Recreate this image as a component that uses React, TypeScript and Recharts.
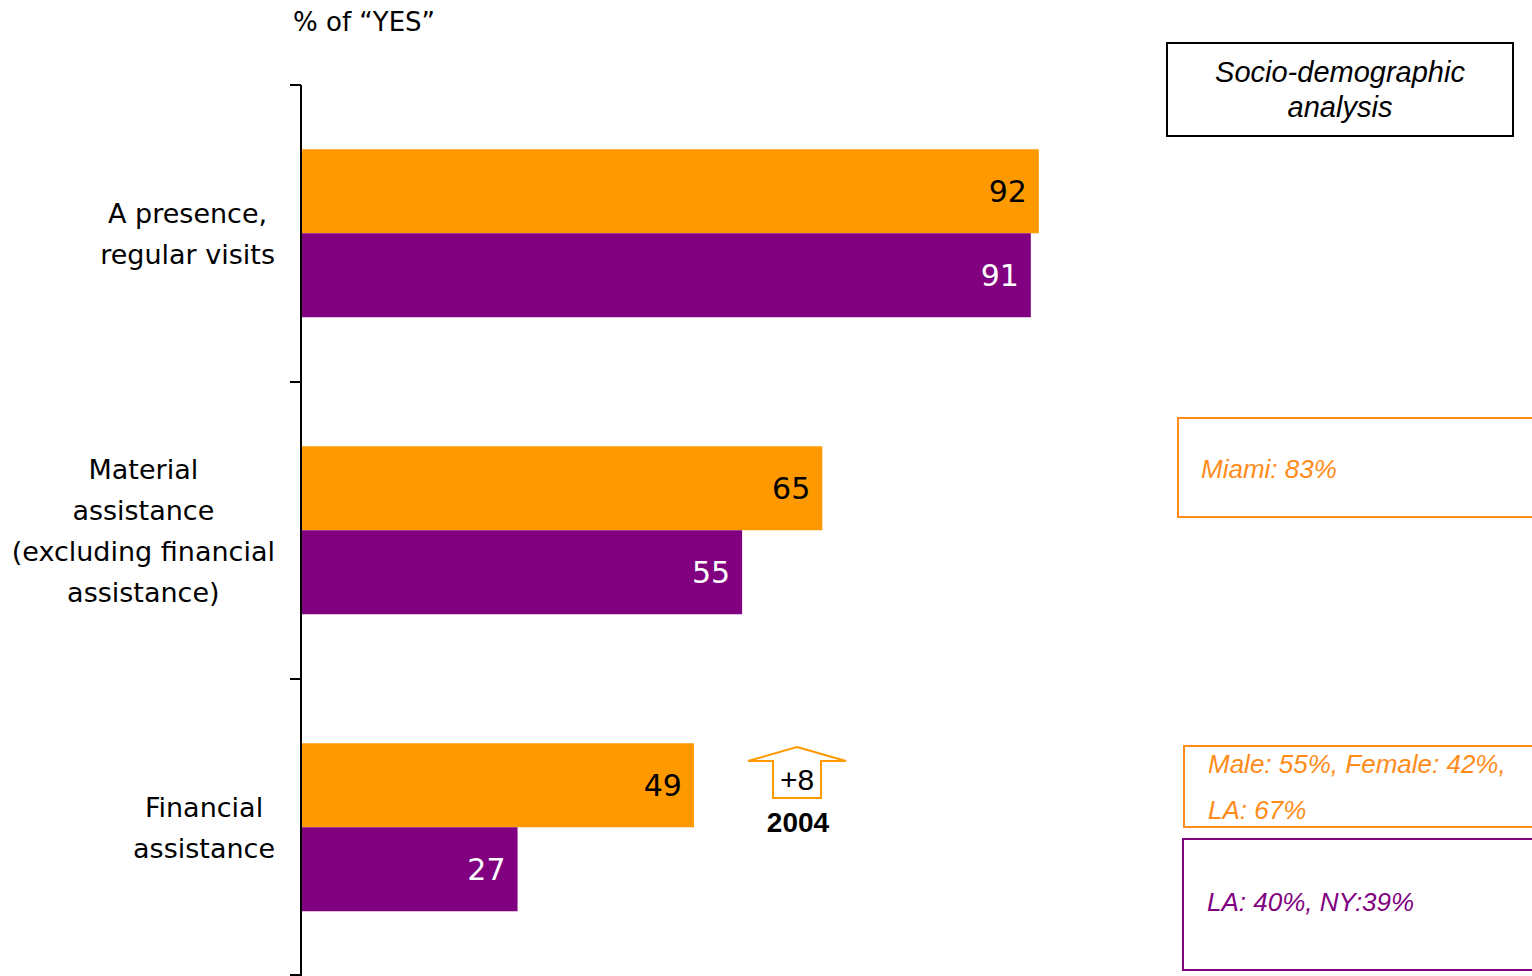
import React from 'react';
import { BarChart, Bar, XAxis, YAxis, LabelList } from 'recharts';

const categories = [
  'A presence,\nregular visits',
  'Material\nassistance\n(excluding financial\nassistance)',
  'Financial\nassistance',
];
const yesLatest = [92, 65, 49];
const yesPrevious = [91, 55, 27];
const axisTitle = '% of \u201cYES\u201d';

const data = categories.map((category, i) => ({
  category,
  latest: yesLatest[i],
  previous: yesPrevious[i],
}));

const W = 1532;
const H = 976;
const TOP = 85;
const AXIS_X = 301;
const BAND = (H - TOP) / categories.length;
const chartFont = 'Tahoma, "DejaVu Sans", sans-serif';
const boxFont = '"Liberation Sans", Arial, sans-serif';

function CategoryTick(props: any) {
  const { y, payload, index } = props;
  const lines = String(payload.value).split('\n');
  return (
    <g>
      <line x1={AXIS_X - 11} x2={AXIS_X} y1={y - BAND / 2} y2={y - BAND / 2} stroke="#000" strokeWidth={2} />
      {index === categories.length - 1 && (
        <line x1={AXIS_X - 11} x2={AXIS_X} y1={y + BAND / 2 - 1} y2={y + BAND / 2 - 1} stroke="#000" strokeWidth={2} />
      )}
      <foreignObject x={0} y={y - 120} width={275} height={240}>
        <div style={{ display: 'flex', justifyContent: 'flex-end', alignItems: 'center', height: '100%' }}>
          <div style={{ textAlign: 'center', fontFamily: chartFont, fontSize: 27, lineHeight: '41px', color: '#000', whiteSpace: 'pre' }}>
            {lines.join('\n')}
          </div>
        </div>
      </foreignObject>
    </g>
  );
}

const boxText: React.CSSProperties = { position: 'absolute', fontFamily: boxFont, fontStyle: 'italic', fontSize: 26, boxSizing: 'border-box' };

export default function App() {
  return (
    <div style={{ position: 'absolute', left: 0, top: 0, width: W, height: H, overflow: 'hidden', background: '#fff' }}>
      <BarChart
        width={W}
        height={H}
        data={data}
        layout="vertical"
        margin={{ top: TOP, right: W - AXIS_X - 802, bottom: 0, left: 0 }}
        barCategoryGap="21.6%"
        barGap={0}
      >
        <XAxis type="number" domain={[0, 100]} hide />
        <YAxis
          type="category"
          dataKey="category"
          width={AXIS_X}
          axisLine={{ stroke: '#000', strokeWidth: 2 }}
          tickLine={false}
          tick={<CategoryTick />}
          interval={0}
        />
        <Bar dataKey="latest" fill="#FF9900" isAnimationActive={false}>
          <LabelList dataKey="latest" position="insideRight" offset={12} fill="#000" fontSize={30} fontFamily={chartFont} />
        </Bar>
        <Bar dataKey="previous" fill="#800080" isAnimationActive={false}>
          <LabelList dataKey="previous" position="insideRight" offset={12} fill="#fff" fontSize={30} fontFamily={chartFont} />
        </Bar>
      </BarChart>

      <div style={{ position: 'absolute', left: 293, top: 7, fontFamily: chartFont, fontSize: 26, color: '#000' }}>{axisTitle}</div>

      <svg width={W} height={H} style={{ position: 'absolute', left: 0, top: 0, pointerEvents: 'none' }}>
        <polygon
          points="797,747 846,761 821,761 821,798 773,798 773,761 748,761"
          fill="#fff"
          stroke="#FF9900"
          strokeWidth={2}
        />
        <text x={797} y={779} textAnchor="middle" dominantBaseline="central" fontFamily={boxFont} fontSize={30} fill="#000">+8</text>
        <text x={798} y={822} textAnchor="middle" dominantBaseline="central" fontFamily={boxFont} fontSize={28} fontWeight="bold" fill="#000">2004</text>
      </svg>

      <div style={{ ...boxText, left: 1166, top: 42, width: 348, height: 95, border: '2px solid #000', color: '#000', fontSize: 29, lineHeight: '35px', textAlign: 'center', paddingTop: 11 }}>
        Socio-demographic<br />analysis
      </div>
      <div style={{ ...boxText, left: 1177, top: 417, width: 380, height: 101, border: '2px solid #FF8C1A', color: '#FF8C1A', paddingLeft: 22, paddingTop: 34, lineHeight: '32px' }}>
        Miami: 83%
      </div>
      <div style={{ ...boxText, left: 1183, top: 745, width: 380, height: 83, border: '2px solid #FF8C1A', color: '#FF8C1A', paddingLeft: 23, lineHeight: '46px' }}>
        <div style={{ position: 'relative', top: -6 }}>Male: 55%, Female: 42%,<br />LA: 67%</div>
      </div>
      <div style={{ ...boxText, left: 1182, top: 838, width: 380, height: 133, border: '2px solid #800080', color: '#800080', paddingLeft: 23, paddingTop: 46, lineHeight: '32px' }}>
        LA: 40%, NY:39%
      </div>
    </div>
  );
}
